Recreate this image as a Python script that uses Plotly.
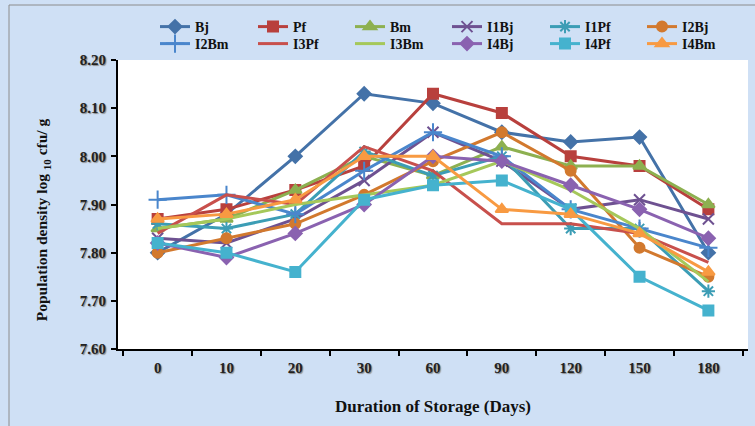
import plotly.graph_objects as go

days = ["0", "10", "20", "30", "60", "90", "120", "150", "180"]

Bj   = [7.80, 7.88, 8.00, 8.13, 8.11, 8.05, 8.03, 8.04, 7.80]
Pf   = [7.87, 7.89, 7.93, 7.98, 8.13, 8.09, 8.00, 7.98, 7.89]
Bm   = [7.85, 7.87, 7.93, 8.00, 7.96, 8.02, 7.98, 7.98, 7.90]
I1Bj = [7.83, 7.82, 7.87, 7.95, 8.05, 7.99, 7.89, 7.91, 7.87]
I1Pf = [7.86, 7.85, 7.88, 8.01, 7.96, 8.00, 7.85, 7.85, 7.72]
I2Bj = [7.80, 7.83, 7.86, 7.92, 7.99, 8.05, 7.97, 7.81, 7.75]
I2Bm = [7.91, 7.92, 7.88, 7.97, 8.05, 8.00, 7.89, 7.85, 7.81]
I3Pf = [7.84, 7.92, 7.90, 8.02, 7.97, 7.86, 7.86, 7.84, 7.78]
I3Bm = [7.85, 7.87, 7.90, 7.92, 7.94, 7.99, 7.93, 7.85, 7.74]
I4Bj = [7.82, 7.79, 7.84, 7.90, 8.00, 7.99, 7.94, 7.89, 7.83]
I4Pf = [7.82, 7.80, 7.76, 7.91, 7.94, 7.95, 7.89, 7.75, 7.68]
I4Bm = [7.87, 7.88, 7.91, 8.00, 8.00, 7.89, 7.88, 7.84, 7.76]

series = [
    ("Bj", Bj, "#4472A8", "diamond", 10),
    ("Pf", Pf, "#B8403D", "square", 10),
    ("Bm", Bm, "#8DB050", "triangle-up", 11),
    ("I1Bj", I1Bj, "#6E5191", "x-thin-open", 11),
    ("I1Pf", I1Pf, "#3C9DB5", "asterisk-open", 11),
    ("I2Bj", I2Bj, "#D2792E", "circle", 10),
    ("I2Bm", I2Bm, "#4A86CC", "cross-thin-open", 13),
    ("I3Pf", I3Pf, "#C8504C", None, 0),
    ("I3Bm", I3Bm, "#A5C85A", None, 0),
    ("I4Bj", I4Bj, "#8A62B0", "diamond", 10),
    ("I4Pf", I4Pf, "#45B2CE", "square", 10),
    ("I4Bm", I4Bm, "#F89A42", "triangle-up", 11),
]

L, R, T, B = 118, 7, 60, 77
W, H = 755, 426
pw, ph = W - L - R, H - T - B


def px_x(p):
    return (p - L) / pw


def px_y(p):
    return (H - B - p) / ph


col_px = [155, 253, 350, 447, 545, 642]
row_top_px = [11, 28]
legend_font = dict(family="Liberation Serif", size=14, weight="bold", color="#111111")

fig = go.Figure()
legends = {}
for i, (name, vals, color, sym, size) in enumerate(series):
    lg = "legend" if i == 0 else "legend%d" % (i + 1)
    legends[lg] = dict(orientation="v", x=px_x(col_px[i % 6]), y=px_y(row_top_px[i // 6]),
                       xanchor="left", yanchor="top", bgcolor="rgba(0,0,0,0)",
                       font=legend_font, borderwidth=0)
    if sym is None:
        fig.add_trace(go.Scatter(x=days, y=vals, name=name, mode="lines", legend=lg,
                                 line=dict(color=color, width=3)))
    else:
        fig.add_trace(go.Scatter(x=days, y=vals, name=name, mode="lines+markers", legend=lg,
                                 line=dict(color=color, width=3),
                                 marker=dict(symbol=sym, size=size, color=color,
                                             line=dict(color=color, width=2))))

fig.add_shape(type="rect", xref="paper", yref="paper",
              x0=px_x(9), x1=px_x(W + 5), y0=px_y(H + 5), y1=px_y(5),
              line=dict(color="#8c8c8c", width=1), fillcolor="rgba(0,0,0,0)", layer="below")

tickfont = dict(family="Liberation Serif", size=15, color="#222222",
                weight="bold", shadow="1px 1px 1px #8a8a8a")

fig.update_layout(
    width=W, height=H,
    margin=dict(l=L, r=R, t=T, b=B),
    paper_bgcolor="#cfe0f5",
    plot_bgcolor="#ffffff",
    font=dict(family="Liberation Serif", color="#111111"),
    showlegend=True,
    xaxis=dict(
        type="category", showgrid=False, showline=True, linecolor="#000000", linewidth=2,
        ticks="outside", tickson="boundaries", ticklen=5, tickcolor="#000000", tickwidth=2,
        tickfont=tickfont, mirror=False, zeroline=False, ticklabelstandoff=4,
        title=dict(text="Duration of Storage (Days)", standoff=25,
                   font=dict(family="Liberation Serif", size=17, weight="bold", color="#111111")),
    ),
    yaxis=dict(
        range=[7.60, 8.20], dtick=0.1, tick0=7.6, tickformat=".2f",
        showgrid=False, showline=True, linecolor="#000000", linewidth=2,
        ticks="outside", ticklen=5, tickcolor="#000000", tickwidth=2,
        tickfont=tickfont, zeroline=False, ticklabelstandoff=2,
        title=dict(text="Population density log <sub>10</sub> cfu/ g" + "&nbsp;" * 8, standoff=28,
                   font=dict(family="Liberation Serif", size=15.5, weight="bold", color="#111111")),
    ),
    **legends,
)

fig.write_html("out.html")
